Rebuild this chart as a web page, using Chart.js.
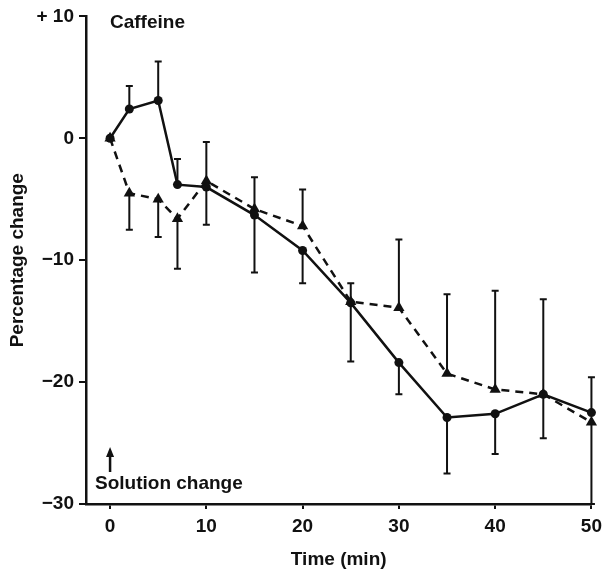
<!DOCTYPE html>
<html>
<head>
<meta charset="utf-8">
<script src="https://cdn.jsdelivr.net/npm/chart.js@4/dist/chart.umd.min.js"></script>
<style>
  body { margin: 0; background: #fff; }
  canvas { display: block; }
</style>
</head>
<body>
<canvas id="chart" width="608" height="571"></canvas>
<script>
// time points (min)
const times = [ 0, 2, 5, 7, 10, 15, 20, 25, 30, 35, 40, 45, 50 ]

// solid line, filled circles
const circles = [ 0, 2.4, 3.1, -3.8, -4.0, -6.3, -9.2, -13.5, -18.4, -22.9, -22.6, -21.0, -22.5 ]
// end of the one-sided error bar for each circle
const circleErrEnd = [ null, 4.3, 6.3, -1.7, -7.1, -11.0, -11.9, -18.3, -21.0, -27.5, -25.9, -24.6, -19.6 ]

// dashed line, filled triangles
const triangles = [ 0, -4.5, -5.0, -6.6, -3.5, -5.8, -7.2, -13.4, -13.9, -19.3, -20.6, -21.0, -23.3 ]
const triangleErrEnd = [ null, -7.5, -8.1, -10.7, -0.3, -3.2, -4.2, -11.9, -8.3, -12.8, -12.5, -13.2, -30 ]

const xTicks = [ 0, 10, 20, 30, 40, 50 ]
const yTicks = [ -30, -20, -10, 0, 10 ]
const yTickLabels = [ '\u221230', '\u221220', '\u221210', '0', '+ 10' ]

const INK = '#111'
const FONT = '"Liberation Sans", Arial, sans-serif'

const errorBars = {
  id: 'errorBars',
  afterDatasetsDraw( chart ) {
    const { ctx, scales: { x, y } } = chart
    const ends = [ circleErrEnd, triangleErrEnd ]
    const vals = [ circles, triangles ]
    ctx.save( )
    ctx.strokeStyle = INK
    ctx.lineWidth = 2
    ctx.setLineDash( [ ] )
    ends.forEach( ( arr, s ) => {
      arr.forEach( ( end, i ) => {
        if ( end === null ) return
        const px = x.getPixelForValue( times[ i ] )
        const y0 = y.getPixelForValue( vals[ s ][ i ] )
        const y1 = y.getPixelForValue( end )
        ctx.beginPath( )
        ctx.moveTo( px, y0 )
        ctx.lineTo( px, y1 )
        ctx.moveTo( px - 3.5, y1 )
        ctx.lineTo( px + 3.5, y1 )
        ctx.stroke( )
      } )
    } )
    ctx.restore( )
  }
}

const notes = {
  id: 'notes',
  afterDraw( chart ) {
    const { ctx, scales: { x } } = chart
    const x0 = x.getPixelForValue( 0 )
    ctx.save( )
    ctx.fillStyle = INK
    ctx.font = 'bold 19px ' + FONT
    ctx.textBaseline = 'alphabetic'
    ctx.fillText( 'Caffeine', 110, 28 )
    ctx.fillText( 'Solution change', 95, 489 )
    // arrow
    ctx.strokeStyle = INK
    ctx.lineWidth = 2.5
    ctx.beginPath( )
    ctx.moveTo( x0, 472 )
    ctx.lineTo( x0, 454 )
    ctx.stroke( )
    ctx.beginPath( )
    ctx.moveTo( x0, 447 )
    ctx.lineTo( x0 - 4, 457 )
    ctx.lineTo( x0 + 4, 457 )
    ctx.closePath( )
    ctx.fill( )
    ctx.restore( )
  }
}

new Chart( document.getElementById( 'chart' ), {
  type: 'line',
  data: {
    datasets: [ {
      data: times.map( ( t, i ) => ( { x: t, y: circles[ i ] } ) ),
      borderColor: INK,
      backgroundColor: INK,
      borderWidth: 2.5,
      pointStyle: 'circle',
      pointRadius: 4.5,
      pointBorderWidth: 0,
      tension: 0,
      clip: false
    }, {
      data: times.map( ( t, i ) => ( { x: t, y: triangles[ i ] } ) ),
      borderColor: INK,
      backgroundColor: INK,
      borderWidth: 2.5,
      borderDash: [ 8, 6 ],
      pointStyle: 'triangle',
      pointRadius: 6.5,
      pointBorderWidth: 0,
      tension: 0,
      clip: false
    } ]
  },
  options: {
    responsive: false,
    animation: false,
    events: [ ],
    layout: { padding: { top: 16, right: 13, bottom: 0, left: 0 } },
    plugins: { legend: { display: false }, tooltip: { enabled: false } },
    scales: {
      x: {
        type: 'linear',
        min: -2.5,
        max: 50,
        afterBuildTicks: ( scale ) => { scale.ticks = xTicks.map( v => ( { value: v } ) ) },
        afterFit: ( scale ) => { scale.height = 67 },
        border: { display: true, color: INK, width: 2.5 },
        grid: { drawOnChartArea: false, drawTicks: true, tickLength: 5, color: INK, lineWidth: 2 },
        ticks: { color: INK, padding: 6, font: { family: FONT, size: 19, weight: 'bold' }, maxRotation: 0 },
        title: { display: true, text: 'Time (min)', color: INK, padding: { top: 0, bottom: 0 },
          font: { family: FONT, size: 19, weight: 'bold' } }
      },
      y: {
        min: -30,
        max: 10,
        afterBuildTicks: ( scale ) => { scale.ticks = yTicks.map( v => ( { value: v } ) ) },
        afterFit: ( scale ) => { scale.width = 86 },
        border: { display: true, color: INK, width: 2.5 },
        grid: { drawOnChartArea: false, drawTicks: true, tickLength: 7, color: INK, lineWidth: 2 },
        ticks: {
          color: INK, padding: 5, font: { family: FONT, size: 19, weight: 'bold' },
          callback: ( v ) => yTickLabels[ yTicks.indexOf( v ) ]
        },
        title: { display: true, text: 'Percentage change', color: INK, padding: { top: 6, bottom: 0 },
          font: { family: FONT, size: 19, weight: 'bold' } }
      }
    }
  },
  plugins: [ errorBars, notes ]
} )
</script>
</body>
</html>
